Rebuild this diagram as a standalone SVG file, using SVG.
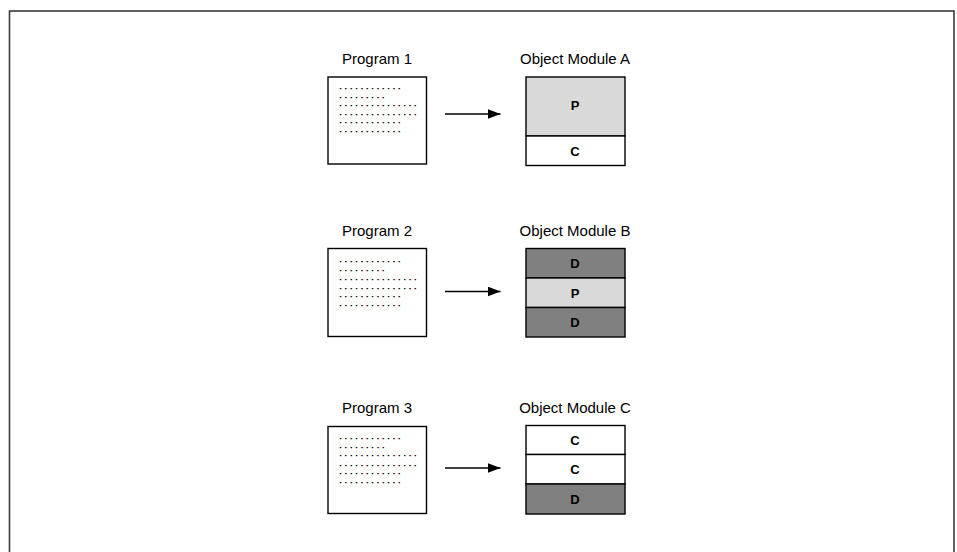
<svg xmlns="http://www.w3.org/2000/svg" width="957" height="552" viewBox="0 0 957 552">
<style>
.bg{fill:#ffffff}
.frame{fill:none;stroke:#3a3a3a;stroke-width:1.6}
.title{font-family:"Liberation Sans",Arial,sans-serif;font-size:15px;fill:#000;text-anchor:middle}
.box{fill:#ffffff;stroke:#000;stroke-width:1.4}
.dots{font-family:"Liberation Sans",Arial,sans-serif;font-size:7px;letter-spacing:3.4px;fill:#000;stroke:#000;stroke-width:0.6}
.light{fill:#d9d9d9;stroke:#000;stroke-width:1.4}
.dark{fill:#808080;stroke:#000;stroke-width:1.4}
.white{fill:#ffffff;stroke:#000;stroke-width:1.4}
.lbl{font-family:"Liberation Sans",Arial,sans-serif;font-size:13px;font-weight:bold;fill:#000;text-anchor:middle}
.conn{stroke:#000;stroke-width:1.3;fill:none}
</style>
<defs>
<marker id="arrow" markerWidth="13" markerHeight="10" refX="13" refY="5" orient="auto" markerUnits="userSpaceOnUse">
<path d="M0,0 L13,5 L0,10 Z" fill="#000"/>
</marker>
</defs>
<rect class="bg" x="0" y="0" width="957" height="552"/>
<rect class="frame" x="9.5" y="11" width="944.5" height="560"/>

<g id="program1">
<text class="title" x="377" y="64">Program 1</text>
<rect class="box" x="328" y="77" width="98.5" height="87"/>
<text class="dots" x="339.5" y="89">............</text>
<text class="dots" x="339.5" y="97.5">.........</text>
<text class="dots" x="339.5" y="106">...............</text>
<text class="dots" x="339.5" y="114.5">...............</text>
<text class="dots" x="339.5" y="123">............</text>
<text class="dots" x="339.5" y="131.5">............</text>
</g>

<g id="moduleA">
<text class="title" x="575" y="64">Object Module A</text>
<rect class="light" x="526" y="77" width="99" height="59"/>
<rect class="white" x="526" y="136" width="99" height="29.5"/>
<text class="lbl" x="575" y="109.5">P</text>
<text class="lbl" x="575" y="155.5">C</text>
</g>

<g id="program2">
<text class="title" x="377" y="235.5">Program 2</text>
<rect class="box" x="328" y="248.5" width="98.5" height="88"/>
<text class="dots" x="339.5" y="262.3">............</text>
<text class="dots" x="339.5" y="271.2">.........</text>
<text class="dots" x="339.5" y="280">...............</text>
<text class="dots" x="339.5" y="288.9">...............</text>
<text class="dots" x="339.5" y="297.3">............</text>
<text class="dots" x="339.5" y="306.3">............</text>
</g>

<g id="moduleB">
<text class="title" x="575" y="235.5">Object Module B</text>
<rect class="dark" x="526" y="248.5" width="99" height="29.5"/>
<rect class="light" x="526" y="278" width="99" height="29.5"/>
<rect class="dark" x="526" y="307.5" width="99" height="29.5"/>
<text class="lbl" x="575" y="268">D</text>
<text class="lbl" x="575" y="297.5">P</text>
<text class="lbl" x="575" y="327">D</text>
</g>

<g id="program3">
<text class="title" x="377" y="413">Program 3</text>
<rect class="box" x="328" y="426.5" width="98.5" height="87"/>
<text class="dots" x="339.5" y="438.9">............</text>
<text class="dots" x="339.5" y="447.9">.........</text>
<text class="dots" x="339.5" y="456.3">...............</text>
<text class="dots" x="339.5" y="465.6">...............</text>
<text class="dots" x="339.5" y="473.9">............</text>
<text class="dots" x="339.5" y="482.9">............</text>
</g>

<g id="moduleC">
<text class="title" x="575" y="413">Object Module C</text>
<rect class="white" x="526" y="425.5" width="99" height="29"/>
<rect class="white" x="526" y="454.5" width="99" height="29.5"/>
<rect class="dark" x="526" y="484" width="99" height="30"/>
<text class="lbl" x="575" y="444.5">C</text>
<text class="lbl" x="575" y="474">C</text>
<text class="lbl" x="575" y="503.5">D</text>
</g>

<g id="connectors">
<line class="conn" x1="445" y1="114" x2="500.5" y2="114" marker-end="url(#arrow)"/>
<line class="conn" x1="445" y1="291.5" x2="500.5" y2="291.5" marker-end="url(#arrow)"/>
<line class="conn" x1="445" y1="468" x2="500.5" y2="468" marker-end="url(#arrow)"/>
</g>
</svg>
